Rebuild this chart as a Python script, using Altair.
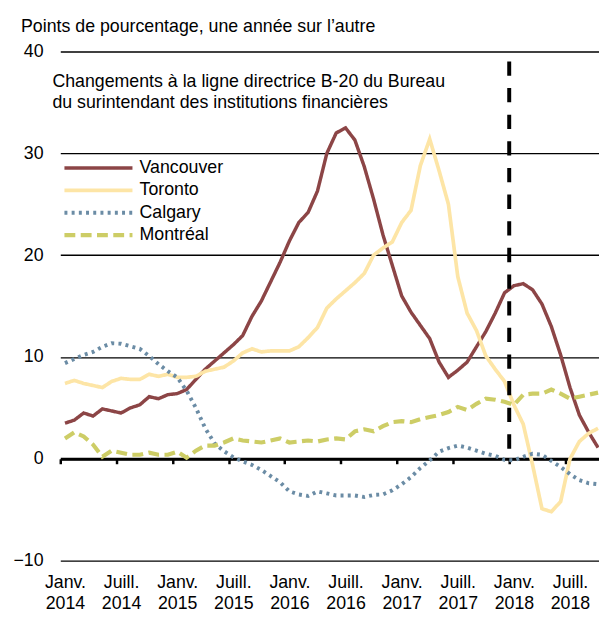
import json
import altair as alt
import pandas as pd

# ---- data ----
cities = ["Vancouver", "Toronto", "Calgary", "Montréal"]

vancouver = [3.5, 3.8, 4.5, 4.2, 4.9, 4.7, 4.5, 5.0, 5.3, 6.1, 5.9, 6.3, 6.4, 6.8, 7.8, 8.8,
             9.6, 10.4, 11.2, 12.1, 14.0, 15.5, 17.4, 19.3, 21.4, 23.2, 24.2, 26.3, 30.0, 32.0,
             32.5, 31.3, 28.7, 25.5, 22.0, 19.0, 16.0, 14.4, 13.1, 11.8, 9.5, 8.0, 8.7, 9.5,
             11.0, 12.5, 14.3, 16.3, 17.0, 17.2, 16.6, 15.2, 13.0, 10.2, 7.0, 4.3, 2.6, 1.1]
toronto = [7.4, 7.7, 7.4, 7.2, 7.0, 7.6, 7.9, 7.8, 7.8, 8.3, 8.1, 8.3, 8.0, 8.0, 8.1, 8.6,
           8.8, 9.0, 9.6, 10.4, 10.8, 10.5, 10.6, 10.6, 10.6, 11.0, 11.9, 12.9, 14.8, 15.7,
           16.5, 17.3, 18.2, 20.0, 20.7, 21.3, 23.2, 24.4, 28.8, 31.4, 28.3, 25.0, 17.9, 14.3,
           12.6, 10.1, 8.8, 7.6, 5.3, 3.4, -0.6, -4.9, -5.2, -4.2, 0.0, 1.7, 2.5, 3.0]
calgary = [9.4, 9.8, 10.2, 10.5, 11.0, 11.35, 11.3, 11.05, 10.8, 10.1, 9.3, 8.6, 8.0, 6.7,
           5.0, 3.0, 1.5, 0.75, 0.15, -0.25, -0.6, -1.1, -1.7, -2.3, -3.2, -3.5, -3.65, -3.2,
           -3.4, -3.6, -3.6, -3.6, -3.75, -3.55, -3.5, -3.1, -2.5, -1.8, -0.9, -0.15, 0.7,
           1.05, 1.3, 1.1, 0.8, 0.5, 0.3, -0.1, -0.15, 0.2, 0.5, 0.4, -0.2, -0.8, -1.5, -2.1,
           -2.4, -2.5]
montreal = [2.0, 2.6, 2.2, 1.4, 0.2, 0.8, 0.6, 0.4, 0.4, 0.6, 0.4, 0.4, 0.7, 0.1, 0.8, 1.3,
            1.3, 1.6, 2.0, 1.8, 1.7, 1.6, 1.8, 2.0, 1.6, 1.7, 1.8, 1.7, 1.9, 2.0, 1.9, 2.7,
            2.9, 2.7, 3.2, 3.6, 3.7, 3.6, 3.9, 4.1, 4.3, 4.6, 5.1, 4.8, 5.4, 5.9, 5.8, 5.6,
            5.3, 6.3, 6.4, 6.4, 6.8, 6.4, 5.9, 6.1, 6.3, 6.5]

tick_month = ["Janv.", "Juill.", "Janv.", "Juill.", "Janv.", "Juill.", "Janv.", "Juill.", "Janv.", "Juill."]
tick_year = ["2014", "2014", "2015", "2015", "2016", "2016", "2017", "2017", "2018", "2018"]
tick_index = [0, 6, 12, 18, 24, 30, 36, 42, 48, 54]   # month index of each tick (Jan 2014 = 0)

policy_index = [48]            # Jan 2018: B-20 guideline
annotation = ["Changements à la ligne directrice B-20 du Bureau",
              "du surintendant des institutions financières"]
y_title = "Points de pourcentage, une année sur l’autre"

# ---- styles ----
colors = ["#8C4546", "#FDE5A6", "#6B8CA5", "#CDCD66"]
dashes = [[1, 0], [1, 0], [3, 4.3], [11, 5.5]]
widths = [3.5, 4.2, 3.2, 4.5]
FONT = "Liberation Sans"

series = [vancouver, toronto, calgary, montreal]
rows = []
for city, vals in zip(cities, series):
    for i, v in enumerate(vals):
        rows.append({"city": city, "pos": i + 0.5, "value": v})
df = pd.DataFrame(rows)

W, H = 546, 516
n_months = len(vancouver)
x_scale = alt.Scale(domain=[0, n_months - 0.4], nice=False, zero=False)
y_scale = alt.Scale(domain=[-10, 40], nice=False, zero=False)

month_px = W / (n_months - 0.4)
label_expr = "[{m}[datum.value/6], {y}[datum.value/6]]".format(
    m=json.dumps(tick_month), y=json.dumps(tick_year))

x_enc = alt.X("pos:Q", scale=x_scale, axis=alt.Axis(
    values=tick_index, labelExpr=label_expr, title=None, orient="bottom",
    offset=-(H * 10 / 50), domainColor="black", domainWidth=3, tickColor="black",
    tickWidth=2.5, tickSize=5, labelOffset=month_px / 2, labelPadding=111,
    labelFontSize=18, labelFont=FONT, labelColor="black", labelLineHeight=22,
    labelOverlap=False, labelFlush=False, grid=False, labelBaseline="top",
    labelAlign="center"))

y_enc = alt.Y("value:Q", scale=y_scale, axis=alt.Axis(
    values=[-10, 0, 10, 20, 30, 40], title=y_title, titleAngle=0, titleX=-40.3,
    titleY=-20, titleAlign="left", titleBaseline="alphabetic", titleFontSize=18,
    titleFontWeight="normal", titleFont=FONT, titleColor="black", labelFontSize=18,
    labelFont=FONT, labelPadding=17.5, labelColor="black", ticks=False, domain=False,
    grid=True, gridColor="black", gridWidth=1.3))

legend = alt.Legend(
    title=None, orient="none", legendX=51.3, legendY=106, padding=0, rowPadding=1.7,
    symbolType="M-6,0H1", symbolSize=388, symbolStrokeWidth=4,
    labelFontSize=18, labelFont=FONT, labelColor="black", labelOffset=5,
)

lines = alt.Chart(df).mark_line().encode(
    x=x_enc,
    y=y_enc,
    color=alt.Color("city:N", sort=cities, scale=alt.Scale(domain=cities, range=colors), legend=legend),
    strokeDash=alt.StrokeDash("city:N", sort=cities, scale=alt.Scale(domain=cities, range=dashes), legend=legend),
    strokeWidth=alt.StrokeWidth("city:N", scale=alt.Scale(domain=cities, range=widths), legend=None),
)

policy_df = pd.DataFrame({"pos": policy_index, "top": [40], "bottom": [0]})
policy = alt.Chart(policy_df).mark_rule(
    color="black", strokeWidth=4, strokeDash=[14.5, 12.5], strokeDashOffset=17
).encode(x=alt.X("pos:Q", scale=x_scale), y=alt.Y("top:Q", scale=y_scale), y2="bottom:Q")

note = alt.Chart(pd.DataFrame({"k": [0]})).mark_text(
    align="left", baseline="alphabetic", fontSize=18, font=FONT, color="black", lineHeight=21
).encode(x=alt.value(-8), y=alt.value(36), text=alt.value(annotation))

chart = alt.layer(lines, policy, note).properties(
    width=W, height=H,
    autosize=alt.AutoSizeParams(type="none"),
    padding={"left": 53, "top": 40, "right": 0, "bottom": 51},
).configure_view(stroke=None)

chart.save("out.html", embed_options={"renderer": "svg", "actions": False})
